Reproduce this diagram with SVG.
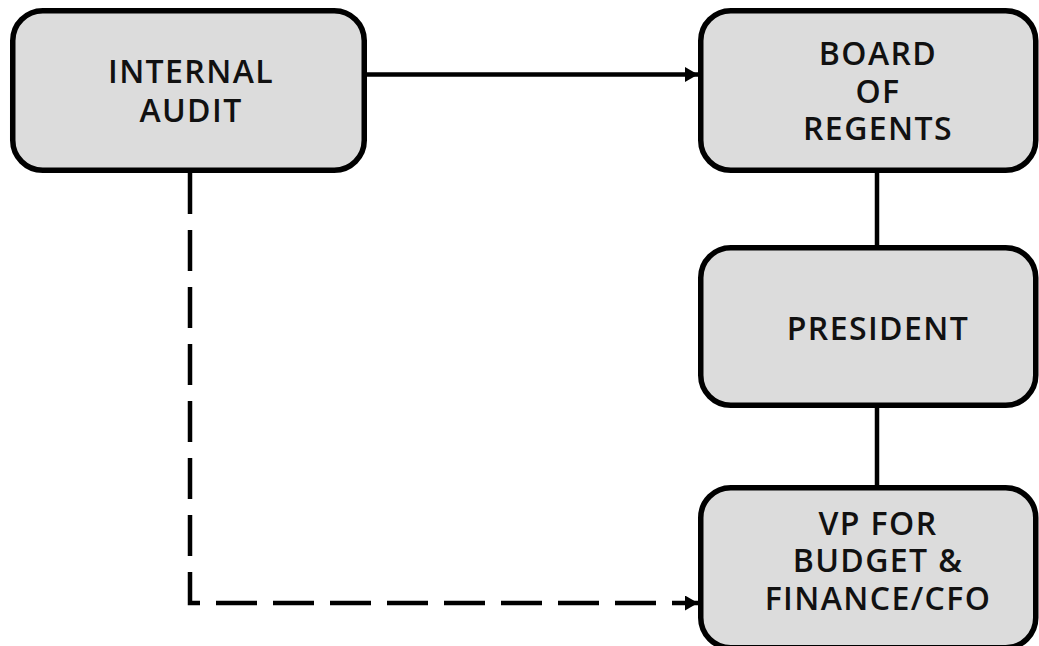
<svg xmlns="http://www.w3.org/2000/svg" width="1039" height="646" viewBox="0 0 1039 646">
<style>
.box{fill:#dcdcdc;stroke:#000;stroke-width:5.5}
.t{font-family:"Open Sans","Noto Sans",sans-serif;font-weight:600;font-size:32px;letter-spacing:1.4px;fill:#111;text-anchor:middle}
.c{stroke:#000;stroke-width:4.5;fill:none}
</style>
<defs>
<marker id="ah" viewBox="0 0 13 15" refX="13" refY="7.5" markerWidth="13" markerHeight="15" markerUnits="userSpaceOnUse" orient="auto"><path d="M0,0L13,7.5L0,15z" fill="#000"/></marker>
</defs>
<rect width="1039" height="646" fill="#fff"/>
<g id="connectors">
<line class="c" x1="367" y1="74.5" x2="698" y2="74.5" marker-end="url(#ah)"/>
<line class="c" x1="877" y1="172" x2="877" y2="246"/>
<line class="c" x1="877" y1="407" x2="877" y2="486"/>
<path class="c" d="M190,173V603H698" stroke-dasharray="41,16" marker-end="url(#ah)"/>
</g>
<g id="internal-audit">
<rect class="box" x="12.75" y="10.75" width="351.5" height="159.5" rx="30"/>
<text class="t" x="191" y="83">INTERNAL</text>
<text class="t" x="191" y="122">AUDIT</text>
</g>
<g id="board">
<rect class="box" x="700.75" y="10.75" width="335" height="159.5" rx="30"/>
<text class="t" x="878" y="65">BOARD</text>
<text class="t" x="878" y="103">OF</text>
<text class="t" x="878" y="140">REGENTS</text>
</g>
<g id="president">
<rect class="box" x="700.75" y="247.75" width="335" height="157.5" rx="30"/>
<text class="t" x="878" y="340">PRESIDENT</text>
</g>
<g id="vp">
<rect class="box" x="700.75" y="487.75" width="335" height="160" rx="30"/>
<text class="t" x="878" y="535">VP FOR</text>
<text class="t" x="878" y="572">BUDGET &amp;</text>
<text class="t" x="878" y="610">FINANCE/CFO</text>
</g>
</svg>
